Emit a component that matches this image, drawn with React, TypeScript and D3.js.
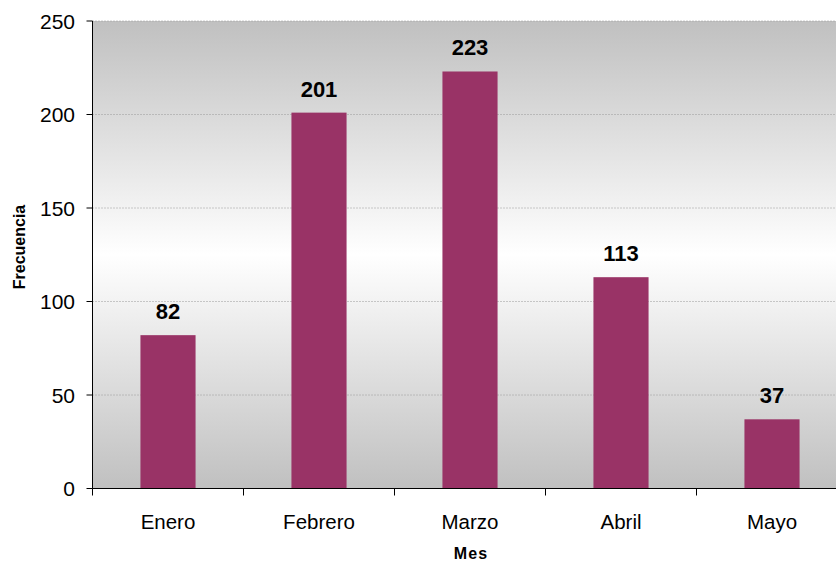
import React from 'react';
import { scaleBand, scaleLinear } from 'd3';

const months = ['Enero', 'Febrero', 'Marzo', 'Abril', 'Mayo'];
const counts = [82, 201, 223, 113, 37];
const yTicks = [0, 50, 100, 150, 200, 250];

const App = () => {
  const width = 836;
  const height = 561;
  const left = 92.5;
  const top = 21;
  const bottom = 488.5;
  const step = 151;
  const right = left + months.length * step;

  const x = scaleBand().domain(months).range([left, right]).paddingInner(0.635).paddingOuter(0.3175);
  const y = scaleLinear().domain([0, 250]).range([bottom, top]);
  const font = '"Liberation Sans", Arial, sans-serif';

  return (
    <svg width={width} height={height} style={{ position: 'absolute', left: 0, top: 0 }} fontFamily={font}>
      <defs>
        <linearGradient id="bg" x1="0" y1="0" x2="0" y2="1">
          <stop offset="0" stopColor="#c0c0c0" />
          <stop offset="0.5" stopColor="#ffffff" />
          <stop offset="1" stopColor="#c0c0c0" />
        </linearGradient>
      </defs>
      <rect x={0} y={0} width={width} height={height} fill="#fff" />
      <rect x={left} y={top} width={right - left} height={bottom - top} fill="url(#bg)" />
      {yTicks.map((t) => (
        <g key={t}>
          {t > 0 && (
            <line x1={left} x2={right} y1={y(t)} y2={y(t)} stroke="#999" strokeWidth={1} strokeDasharray="1,2" />
          )}
          <line x1={left - 6} x2={left} y1={y(t)} y2={y(t)} stroke="#000" />
          <text x={75} y={y(t)} dy="0.36em" textAnchor="end" fontSize={21}>
            {t}
          </text>
        </g>
      ))}
      {counts.map((v, i) => (
        <g key={months[i]}>
          <rect x={x(months[i])} y={y(v)} width={x.bandwidth()} height={y(0) - y(v)} fill="#993366" />
          <text x={x(months[i])! + x.bandwidth() / 2} y={y(v) - 16} textAnchor="middle" fontSize={22} fontWeight="bold">
            {v}
          </text>
          <text x={x(months[i])! + x.bandwidth() / 2} y={529} textAnchor="middle" fontSize={20.5}>
            {months[i]}
          </text>
        </g>
      ))}
      {months.map((m, i) => (
        <line key={m} x1={left + i * step} x2={left + i * step} y1={bottom} y2={bottom + 7} stroke="#000" />
      ))}
      <line x1={left} x2={left} y1={top} y2={bottom} stroke="#000" />
      <line x1={left} x2={right} y1={bottom} y2={bottom} stroke="#000" />
      <text x={471} y={559} textAnchor="middle" fontSize={16} fontWeight="bold" letterSpacing={1.2}>
        Mes
      </text>
      <text transform={`translate(25,247) rotate(-90)`} textAnchor="middle" fontSize={16} fontWeight="bold">
        Frecuencia
      </text>
    </svg>
  );
};

export default App;
